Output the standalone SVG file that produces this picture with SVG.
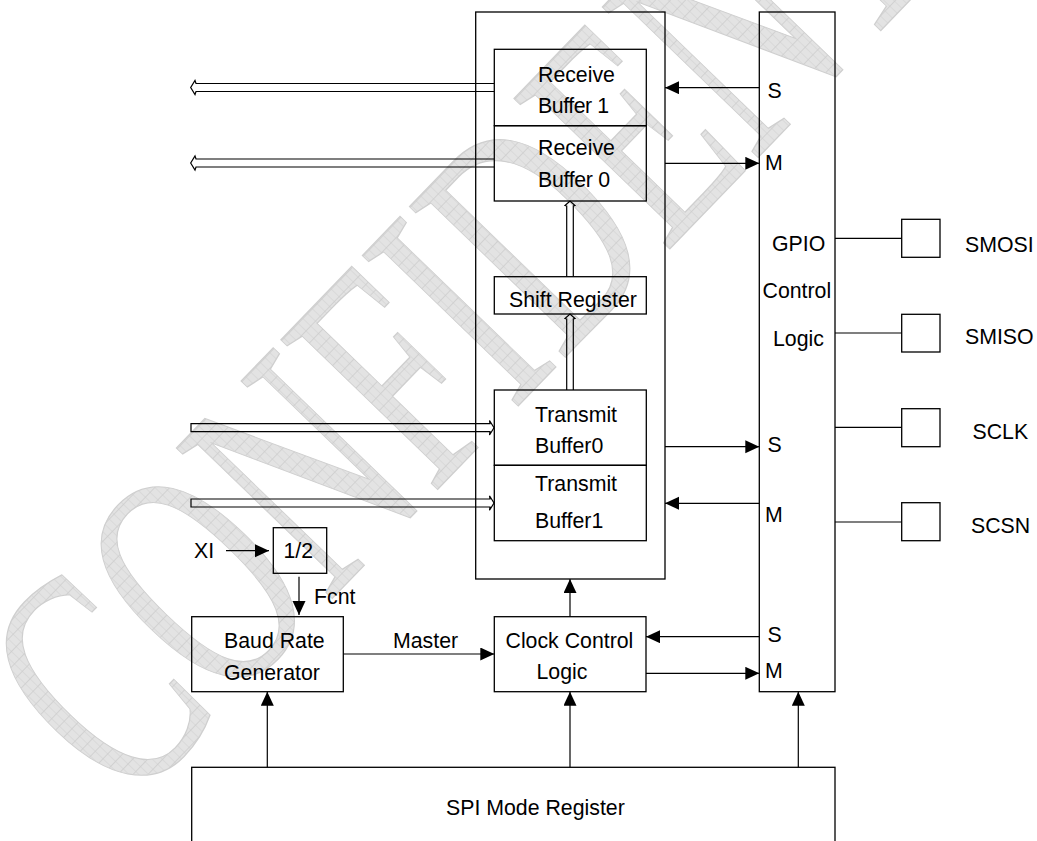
<svg xmlns="http://www.w3.org/2000/svg" width="1037" height="841" viewBox="0 0 1037 841">
<defs>
<style>
.box{fill:none;stroke:#000;stroke-width:1.3}
.ln{fill:none;stroke:#000;stroke-width:1.2}
.bus{fill:none;stroke:#000;stroke-width:1.2;stroke-linejoin:miter}
.arr{fill:none;stroke:#000;stroke-width:1.2;marker-end:url(#ah)}
text{font-family:"Liberation Sans",Arial,sans-serif;font-size:21.3px;fill:#000}
.wm{font-family:"Liberation Serif","Times New Roman",serif;font-size:245px;fill:url(#grid);stroke:#cfcfcf;stroke-width:1}
</style>
<pattern id="grid" width="8" height="8" patternUnits="userSpaceOnUse">
<rect width="8" height="8" fill="#e3e3e3"/>
<path d="M0,0H8M0,0V8" stroke="#cccccc" stroke-width="1"/>
</pattern>
<marker id="ah" markerWidth="15" markerHeight="14" refX="14" refY="6.5" orient="auto" markerUnits="userSpaceOnUse">
<path d="M0,0L14,6.5L0,13Z" fill="#000"/>
</marker>
</defs>
<rect width="1037" height="841" fill="#fff"/>
<g id="watermark" transform="translate(127,811) rotate(-46) scale(0.85,1.35)">
<text class="wm" x="0" y="0">CONFIDENTIAL</text>
</g>
<g id="connectors">
<path class="bus" d="M494,83.5H196L195,80.5L190.7,87.5L195,94.5L196,91.5H494"/>
<path class="bus" d="M494,159H196L195,156L190.7,163L195,170L196,167H494"/>
<path class="bus" d="M191,423.7H490L489.5,420.5L494,427.7L489.5,435L490,431.7H191Z"/>
<path class="bus" d="M191,499H490L489.5,495.8L494,503L489.5,510.3L490,507H191Z"/>
<path class="bus" d="M566.7,276.7V206L565,205.5L570,201L575,205.5L573.3,206V276.7"/>
<path class="bus" d="M566.7,390V319L565,318.5L570,314L575,318.5L573.3,319V390"/>
<path class="arr" d="M759.3,87.7H665"/>
<path class="arr" d="M665,163.3H759.3"/>
<path class="arr" d="M665,446.7H759.3"/>
<path class="arr" d="M759.3,503.3H665"/>
<path class="arr" d="M570,616.7V579"/>
<path class="arr" d="M759.3,636.7H646"/>
<path class="arr" d="M646,673.3H759.3"/>
<path class="arr" d="M343.3,654H494.3"/>
<path class="arr" d="M226,550.7H269"/>
<path class="arr" d="M299,576.7V615"/>
<path class="arr" d="M267.3,767.3V691.7"/>
<path class="arr" d="M570,767.3V691.7"/>
<path class="arr" d="M798.3,767.3V691.7"/>
<path class="ln" d="M835,238.3H901.7M835,333H901.7M835,427.3H901.7M835,522H901.7"/>
</g>
<g id="spi-core">
<rect class="box" x="475.7" y="12" width="189.3" height="567"/>
</g>
<g id="receive-buffer-1">
<rect class="box" x="494.3" y="49.3" width="152" height="76.4"/>
<text x="538" y="82">Receive</text>
<text x="538" y="113" textLength="71" lengthAdjust="spacing">Buffer 1</text>
</g>
<g id="receive-buffer-0">
<rect class="box" x="494.3" y="125.7" width="152" height="75.3"/>
<text x="538" y="155">Receive</text>
<text x="538" y="187" textLength="72" lengthAdjust="spacing">Buffer 0</text>
</g>
<g id="shift-register">
<rect class="box" x="494.3" y="276.7" width="152" height="37.3"/>
<text x="509" y="307">Shift Register</text>
</g>
<g id="transmit-buffer-0">
<rect class="box" x="494.3" y="390" width="152" height="75.3"/>
<text x="535" y="422">Transmit</text>
<text x="535" y="453">Buffer0</text>
</g>
<g id="transmit-buffer-1">
<rect class="box" x="494.3" y="465.3" width="152" height="75.4"/>
<text x="535" y="491">Transmit</text>
<text x="535" y="528">Buffer1</text>
</g>
<g id="gpio-control-logic">
<rect class="box" x="759.3" y="12" width="75.7" height="679.7"/>
<text x="772" y="251">GPIO</text>
<text x="762.5" y="298">Control</text>
<text x="773" y="346">Logic</text>
<text x="767.5" y="97.5">S</text>
<text x="765" y="170">M</text>
<text x="767.5" y="452">S</text>
<text x="765" y="522">M</text>
<text x="767.5" y="642">S</text>
<text x="765" y="678">M</text>
</g>
<g id="pin-smosi">
<rect class="box" x="901.7" y="219.3" width="38.3" height="38"/>
<text x="965" y="252">SMOSI</text>
</g>
<g id="pin-smiso">
<rect class="box" x="901.7" y="314.3" width="38.3" height="37.7"/>
<text x="965" y="344">SMISO</text>
</g>
<g id="pin-sclk">
<rect class="box" x="901.7" y="408.7" width="38.3" height="38"/>
<text x="972.5" y="439">SCLK</text>
</g>
<g id="pin-scsn">
<rect class="box" x="901.7" y="502.7" width="38.3" height="38"/>
<text x="971" y="533">SCSN</text>
</g>
<g id="xi-label">
<text x="194" y="558">XI</text>
</g>
<g id="divider">
<rect class="box" x="273.3" y="527.7" width="53.4" height="45.6"/>
<text x="283.5" y="558">1/2</text>
</g>
<g id="labels">
<text x="314" y="604">Fcnt</text>
<text x="393" y="648">Master</text>
</g>
<g id="baud-rate-generator">
<rect class="box" x="191.7" y="616.7" width="151.6" height="75"/>
<text x="224" y="648">Baud Rate</text>
<text x="224" y="680">Generator</text>
</g>
<g id="clock-control-logic">
<rect class="box" x="494.3" y="616.7" width="151.7" height="75"/>
<text x="505.5" y="648">Clock Control</text>
<text x="536.5" y="679">Logic</text>
</g>
<g id="spi-mode-register">
<rect class="box" x="191.7" y="767.3" width="643.3" height="100"/>
<text x="446" y="815">SPI Mode Register</text>
</g>
</svg>
